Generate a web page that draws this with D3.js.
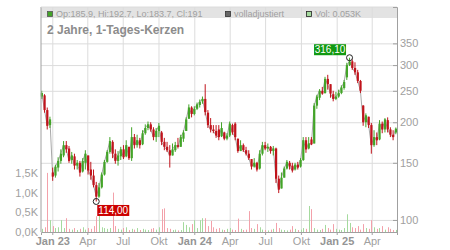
<!DOCTYPE html>
<html>
<head>
<meta charset="utf-8">
<script src="https://cdn.jsdelivr.net/npm/d3@7"></script>
<style>
  body { margin: 0; background: #fff; }
  svg { display: block; font-family: "Liberation Sans", Arial, sans-serif; }
</style>
</head>
<body>
<svg width="450" height="250"></svg>
<script>
// weekly candles, first one in the week of 5 Dec 2022
const startDate = new Date(2022, 11, 5);

const opens = [240,242,218,196,140,137,145,152,158,170,166,153,157,147,150,141,150,158,143,137,
  128,118,126,138,151,162,174,160,152,157,165,157,168,155,180,170,176,171,185,192,
  197,190,180,188,186,174,168,164,158,164,170,168,178,188,205,222,212,220,226,232,
  236,214,196,190,188,190,181,186,178,182,196,198,178,163,170,164,160,154,146,150,
  144,160,170,166,168,163,166,134,125,135,144,150,147,143,148,146,153,176,166,177,
  172,225,238,250,246,272,262,244,236,240,246,255,275,300,308,294,285,268,225,200,
  208,196,170,180,177,198,190,203,190,183,185.9];
const highs = [250,244,222,208,145,148,156,165,175,175,169,162,160,153,152,155,164,158,151,143,
  131,130,140,153,164,180,176,165,163,168,170,176,168,193,184,183,179,189,197,201,
  200,193,192,199,188,179,174,170,172,174,179,183,189,207,227,224,224,230,235,240,
  262,218,206,196,196,196,200,187,185,201,198,200,178,176,172,168,164,154,155,151,
  164,174,174,172,169,169,167,137,140,146,153,152,150,150,151,155,180,180,180,180,
  229,243,253,257,276,280,262,250,248,252,260,270,305,316.1,312,306,290,270,226,213,
  208,199,189,186,203,201,206,207,193,189,192.7];
const lows = [236,214,190,192,132,135,141,149,156,161,150,149,143,143,136,140,143,138,133,126,
  114,117,125,137,150,160,155,149,147,153,154,156,153,152,166,167,166,170,183,189,
  187,176,174,180,170,164,162,145,158,162,166,168,174,188,205,207,210,218,222,228,
  210,192,186,185,179,176,180,176,176,180,183,176,161,163,162,158,153,143,145,141,
  143,158,164,162,160,158,130,121,125,135,143,143,140,142,143,145,152,161,165,170,
  172,220,234,243,245,252,238,232,234,238,244,252,270,298,290,280,264,246,195,193,
  192,160,168,170,176,185,186,186,180,176,183.7];
const closes = [246,218,195,204,136,146,152,160,170,165,152,158,147,150,140,152,160,142,137,128,
  118,126,138,151,162,175,160,152,158,165,156,170,155,180,170,176,170,185,192,197,
  190,180,188,195,174,168,164,158,165,170,168,180,186,204,222,212,220,227,231,236,
  215,196,190,188,182,180,192,178,182,198,186,180,163,170,164,160,155,146,150,143,
  160,170,166,168,163,166,134,124,135,144,151,146,142,148,145,153,176,165,172,171,
  225,240,250,245,272,262,245,236,240,246,256,266,300,308,294,285,268,250,200,210,
  196,170,180,176,198,190,204,190,183,180,191];
// volume in thousands
const volumes = [0.08,0.12,1.50,0.30,0.15,0.10,0.12,0.30,0.10,0.35,0.08,0.06,0.10,0.05,0.08,0.12,0.06,0.10,0.08,0.15,
  0.40,0.45,0.12,0.10,0.08,0.10,1.00,0.15,0.08,0.06,0.10,0.12,0.05,0.08,0.06,0.10,0.05,0.08,0.06,0.05,
  0.08,0.10,0.06,0.12,0.58,0.60,0.10,0.08,0.05,0.06,0.04,0.05,0.25,0.18,0.12,0.20,0.30,0.10,0.30,0.35,
  0.35,0.15,0.28,0.12,0.08,0.10,0.06,0.05,0.08,0.10,0.06,0.05,0.34,0.08,0.05,0.06,0.53,0.10,0.08,0.20,
  0.12,0.06,0.05,0.04,0.06,0.08,0.23,0.10,0.06,0.05,0.04,0.06,0.15,0.08,0.05,0.06,0.10,0.08,0.66,0.58,
  0.10,0.06,0.05,0.08,0.18,0.10,0.06,0.20,0.08,0.06,0.05,0.10,0.45,0.23,0.12,0.10,0.15,0.06,0.20,0.10,
  0.08,0.30,0.12,0.08,0.10,0.15,0.06,0.12,0.08,0.05,0.053];

const priceTicks = [100, 150, 200, 250, 300, 350];
const volTicks = [0, 0.5, 1, 1.5];
const volTickLabels = ["0,0K", "0,5K", "1,0K", "1,5K"];
const monthTickLabels = ["Jan 23", "Apr", "Jul", "Okt", "Jan 24", "Apr", "Jul", "Okt", "Jan 25", "Apr"];

const width = 450;
const height = 250;
const plotLeft = 41, plotRight = 397, plotTop = 7, plotBottom = 232;

const green = "#43a428", red = "#c0141c";
const volGreen = "#a5da9e", volRed = "#f3a1aa";
const gridColor = "#dcdcdc", labelColor = "#a0a0a0";

const candles = opens.map((o, i) => ({
  date: d3.timeWeek.offset(startDate, i),
  open: o, high: highs[i], low: lows[i], close: closes[i], vol: volumes[i]
}));
const monthTicks = d3.timeMonth.every(3).range(new Date(2023, 0, 1), new Date(2025, 4, 1));

var xScale = d3.scaleTime()
  .domain([new Date(2022, 11, 3), new Date(2025, 5, 5)])
  .range([plotLeft, plotRight]);
var yScale = d3.scaleLog()
  .domain([91.8, 453])
  .range([plotBottom, plotTop]);
var volScale = d3.scaleLinear()
  .domain([0, 5.71])
  .range([plotBottom, plotTop]);

const svg = d3.select("svg");

// header band
svg.append("rect")
  .attr("x", plotLeft).attr("y", plotTop)
  .attr("width", plotRight - plotLeft).attr("height", 11)
  .attr("fill", "#e3e3e3");

// grid
svg.append("g")
  .attr("transform", `translate(${plotRight},0)`)
  .call(d3.axisLeft(yScale).tickValues(priceTicks).tickSize(plotRight - plotLeft).tickFormat(""))
  .call(g => g.select(".domain").remove())
  .call(g => g.selectAll("line").attr("stroke", gridColor));
svg.append("g")
  .attr("transform", `translate(0,${plotBottom})`)
  .call(d3.axisTop(xScale).tickValues(monthTicks).tickSize(plotBottom - plotTop).tickFormat(""))
  .call(g => g.select(".domain").remove())
  .call(g => g.selectAll("line").attr("stroke", gridColor));

// volume
svg.append("g")
  .selectAll("rect")
  .data(candles)
  .enter()
  .append("rect")
  .attr("x", d => Math.round(xScale(d.date)))
  .attr("y", d => volScale(d.vol))
  .attr("width", 1)
  .attr("height", d => plotBottom - volScale(d.vol))
  .attr("fill", d => d.close >= d.open ? volGreen : volRed);

// adjusted close line
svg.append("path")
  .datum(candles)
  .attr("fill", "none")
  .attr("stroke", "#a8a8a8")
  .attr("stroke-width", 1)
  .attr("d", d3.line().x(d => xScale(d.date)).y(d => yScale(d.close)));

// candles
const candle = svg.append("g")
  .selectAll("g")
  .data(candles)
  .enter()
  .append("g")
  .attr("stroke", d => d.close >= d.open ? green : red)
  .attr("fill", d => d.close >= d.open ? green : red);
candle.append("line")
  .attr("x1", d => xScale(d.date)).attr("x2", d => xScale(d.date))
  .attr("y1", d => yScale(d.high)).attr("y2", d => yScale(d.low))
  .attr("stroke-width", 1);
candle.append("rect")
  .attr("stroke", "none")
  .attr("x", d => xScale(d.date) - 1)
  .attr("y", d => yScale(Math.max(d.open, d.close)))
  .attr("width", 2.2)
  .attr("height", d => Math.max(1, Math.abs(yScale(d.open) - yScale(d.close))));

// frame lines
svg.append("line")
  .attr("x1", plotLeft).attr("x2", plotLeft).attr("y1", plotTop).attr("y2", plotBottom)
  .attr("stroke", "#a0a0a0");
svg.append("line")
  .attr("x1", plotLeft).attr("x2", plotRight).attr("y1", plotTop).attr("y2", plotTop)
  .attr("stroke", gridColor);

// right price axis
svg.append("g")
  .attr("transform", `translate(${plotRight},0)`)
  .call(d3.axisRight(yScale).tickValues(priceTicks).tickSize(-4).tickPadding(3).tickFormat(d3.format("d")))
  .call(g => g.select(".domain").attr("stroke", "#a0a0a0"))
  .call(g => g.selectAll("line").attr("stroke", "#a0a0a0"))
  .call(g => g.selectAll("text").attr("fill", labelColor).style("font-size", "11px"));

// left volume axis
svg.append("g")
  .attr("transform", `translate(${plotLeft},0)`)
  .call(d3.axisLeft(volScale).tickValues(volTicks).tickSize(0).tickPadding(3)
    .tickFormat((d, i) => volTickLabels[i]))
  .call(g => g.select(".domain").remove())
  .call(g => g.selectAll("text").attr("fill", labelColor).style("font-size", "11px"));

// bottom time axis
svg.append("g")
  .attr("transform", `translate(0,${plotBottom})`)
  .call(d3.axisBottom(xScale).tickValues(monthTicks).tickSize(3).tickPadding(2)
    .tickFormat((d, i) => monthTickLabels[i]))
  .call(g => g.select(".domain").attr("stroke", "#a0a0a0"))
  .call(g => g.selectAll("line").attr("stroke", "#a0a0a0"))
  .call(g => g.selectAll("text")
    .attr("fill", (d, i) => monthTickLabels[i].startsWith("Jan") ? "#959595" : labelColor)
    .style("font-weight", (d, i) => monthTickLabels[i].startsWith("Jan") ? "bold" : "normal")
    .style("font-size", "11px"));

// header legend
const legend = [
  { x: 47, fill: green, stroke: "#555", text: "Op:185.9, Hi:192.7, Lo:183.7, Cl:191" },
  { x: 225, fill: "#666", stroke: "#333", text: "volladjustiert" },
  { x: 306, fill: volGreen, stroke: "#222", text: "Vol: 0.053K" }
];
legend.forEach(l => {
  svg.append("rect")
    .attr("x", l.x + 0.5).attr("y", 11.5).attr("width", 5).attr("height", 5)
    .attr("fill", l.fill).attr("stroke", l.stroke).attr("stroke-width", 0.8);
  svg.append("text")
    .attr("x", l.x + 9).attr("y", 17)
    .attr("fill", labelColor)
    .style("font-size", "9px")
    .text(l.text);
});

svg.append("text")
  .attr("x", 47).attr("y", 34)
  .attr("fill", "#8c8c8c")
  .style("font-size", "12px")
  .style("font-weight", "bold")
  .text("2 Jahre, 1-Tages-Kerzen");

// min / max markers
const minC = candles.reduce((a, b) => b.low < a.low ? b : a);
const maxC = candles.reduce((a, b) => b.high > a.high ? b : a);
const fmt = v => v.toFixed(2).replace(".", ",");

[{ c: minC, v: minC.low, color: "#cc0000", below: true },
 { c: maxC, v: maxC.high, color: "#119911", below: false }].forEach(m => {
  const cx = xScale(m.c.date), cy = yScale(m.v);
  svg.append("circle")
    .attr("cx", cx).attr("cy", cy).attr("r", 3)
    .attr("fill", "none").attr("stroke", "#222").attr("stroke-width", 1);
  const bw = 32, bh = 11;
  const bx = m.below ? cx + 1 : cx - 3.5 - bw;
  const by = m.below ? cy + 3.5 : cy - 2.5 - bh;
  svg.append("rect")
    .attr("x", bx).attr("y", by).attr("width", bw).attr("height", bh)
    .attr("fill", m.color);
  svg.append("text")
    .attr("x", bx + bw / 2).attr("y", by + 9)
    .attr("text-anchor", "middle")
    .attr("fill", "#fff")
    .style("font-size", "10px")
    .text(fmt(m.v));
});
</script>
</body>
</html>
